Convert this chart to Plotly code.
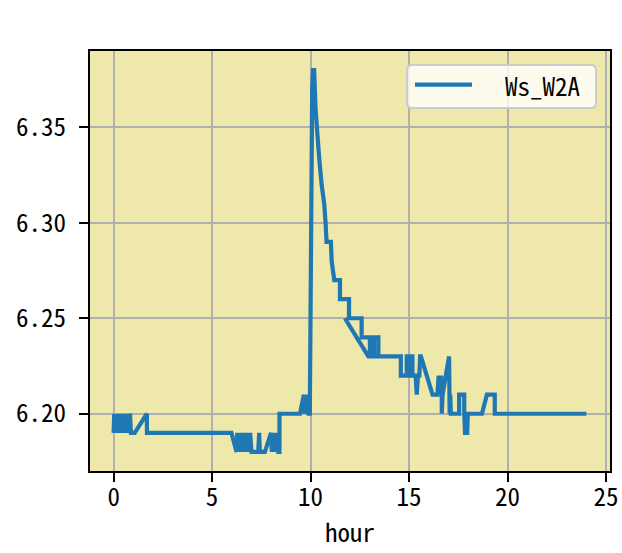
import plotly.graph_objects as go

# ---- data ----
hour = [
    0.00, 0.03, 0.07, 0.11, 0.15, 0.19, 0.23, 0.27, 0.31, 0.35, 0.39, 0.43,
    0.47, 0.51, 0.55, 0.59, 0.63, 0.67, 0.71, 0.75, 0.79, 0.83, 0.88, 1.07,
    1.69, 1.69,
    5.98, 6.24, 6.28, 6.32, 6.36, 6.40, 6.44, 6.48, 6.52, 6.56, 6.60, 6.64,
    6.68, 6.72, 6.76, 6.80, 6.84, 6.88, 6.93, 7.00, 7.34, 7.39, 7.42, 7.68,
    7.99, 8.03, 8.07, 8.11, 8.15, 8.19, 8.23, 8.27, 8.32, 8.36, 8.42, 8.42,
    9.46, 9.66, 9.66, 9.70, 9.74, 9.78, 9.82, 9.86, 9.90, 9.96,
    10.08, 10.12, 10.18, 10.25, 10.32, 10.39, 10.47, 10.56, 10.69, 10.76,
    10.81, 11.03, 11.07, 11.20, 11.49, 11.49, 11.95, 11.95, 12.59, 12.59,
    13.01, 13.01, 13.22, 13.22, 13.44, 13.44, 12.93, 11.74, 12.93,
    14.58, 14.58, 14.88, 14.88, 14.98, 14.98, 15.05, 15.05, 15.17, 15.17,
    15.33, 15.39, 15.45, 15.52, 15.56, 15.60, 16.19, 16.44, 16.50, 16.56,
    16.62, 16.66, 16.66, 16.70, 17.03, 17.06, 17.09, 17.12,
    17.54, 17.54, 17.80, 17.80, 17.84, 17.95, 17.98, 18.70, 18.95, 19.35,
    19.35, 24.00,
]
ws_w2a = [
    6.19, 6.20, 6.19, 6.20, 6.19, 6.20, 6.19, 6.20, 6.19, 6.20, 6.19, 6.20,
    6.19, 6.20, 6.19, 6.20, 6.19, 6.20, 6.19, 6.20, 6.19, 6.20, 6.19, 6.19,
    6.20, 6.19,
    6.19, 6.18, 6.19, 6.18, 6.19, 6.18, 6.19, 6.18, 6.19, 6.18, 6.19, 6.18,
    6.19, 6.18, 6.19, 6.18, 6.19, 6.18, 6.19, 6.18, 6.18, 6.19, 6.18, 6.18,
    6.19, 6.18, 6.19, 6.18, 6.19, 6.18, 6.19, 6.18, 6.19, 6.18, 6.18, 6.20,
    6.20, 6.21, 6.20, 6.21, 6.20, 6.21, 6.20, 6.21, 6.20, 6.20,
    6.37, 6.38, 6.38, 6.36, 6.35, 6.34, 6.33, 6.32, 6.31, 6.30,
    6.29, 6.29, 6.28, 6.27, 6.27, 6.26, 6.26, 6.25, 6.25, 6.24,
    6.24, 6.23, 6.23, 6.24, 6.24, 6.23, 6.23, 6.25, 6.23,
    6.23, 6.22, 6.22, 6.23, 6.23, 6.22, 6.22, 6.23, 6.23, 6.22,
    6.22, 6.21, 6.22, 6.22, 6.23, 6.23, 6.21, 6.21, 6.22, 6.21,
    6.22, 6.21, 6.20, 6.21, 6.23, 6.20, 6.21, 6.20,
    6.20, 6.21, 6.21, 6.20, 6.19, 6.19, 6.20, 6.20, 6.21, 6.21,
    6.20, 6.20,
]
series_name = "Ws_W2A"
x_ticks = [0, 5, 10, 15, 20, 25]
y_ticks = [6.20, 6.25, 6.30, 6.35]
x_label = "hour"

FONT = "Noto Sans Mono CJK SC, DejaVu Sans Mono, monospace"
FS = 25
LINE_COLOR = "#1f77b4"
LW = 4.2

fig = go.Figure()
fig.add_trace(go.Scatter(
    x=hour, y=ws_w2a, mode="lines", name=series_name,
    line=dict(color=LINE_COLOR, width=LW, simplify=False), showlegend=False,
))

axis_common = dict(
    showgrid=True, gridcolor="#b0b0b0", gridwidth=2,
    showline=True, linecolor="black", linewidth=2, mirror=True,
    ticks="outside", ticklen=9, tickwidth=2, tickcolor="black",
    zeroline=False, automargin=False,
    tickfont=dict(family=FONT, size=FS, color="black"),
)

xmin, xmax = min(hour), max(hour)
xpad = (xmax - xmin) * 0.05
ymin, ymax = min(ws_w2a), max(ws_w2a)
ypad = (ymax - ymin) * 0.05

fig.update_xaxes(range=[xmin - xpad, xmax + xpad], tickvals=x_ticks,
                 title=dict(text=x_label, font=dict(family=FONT, size=FS, color="black"),
                            standoff=12),
                 ticklabelstandoff=-6, **axis_common)
fig.update_yaxes(range=[ymin - ypad, ymax + ypad], tickvals=y_ticks,
                 tickformat=".2f", ticklabelstandoff=8, **axis_common)

# legend box drawn in paper coordinates (matplotlib-style)
x0, x1, y0, y1 = 0.6096, 0.9731, 0.8643, 0.9667
rx, ry = 0.0096, 0.0119
path = (f"M {x0+rx},{y0} L {x1-rx},{y0} Q {x1},{y0} {x1},{y0+ry} "
        f"L {x1},{y1-ry} Q {x1},{y1} {x1-rx},{y1} L {x0+rx},{y1} "
        f"Q {x0},{y1} {x0},{y1-ry} L {x0},{y0+ry} Q {x0},{y0} {x0+rx},{y0} Z")
fig.add_shape(type="path", path=path, xref="paper", yref="paper",
              fillcolor="rgba(255,255,255,0.8)", line=dict(color="#cccccc", width=2),
              layer="above")
ly = 0.920
fig.add_shape(type="line", xref="paper", yref="paper", x0=0.625, x1=0.7346,
              y0=ly, y1=ly, line=dict(color=LINE_COLOR, width=LW), layer="above")
fig.add_annotation(text=series_name, xref="paper", yref="paper", x=0.795, y=ly,
                   xanchor="left", yanchor="middle", showarrow=False,
                   font=dict(family=FONT, size=FS, color="black"))

fig.update_layout(
    width=622, height=553,
    margin=dict(l=90, r=12, t=51, b=82),
    paper_bgcolor="white", plot_bgcolor="#EEE8AA",
    font=dict(family=FONT, size=FS, color="black"),
)

fig.write_html("out.html", config={"displayModeBar": False},
               post_script="document.body.style.margin='0';document.body.style.overflow='hidden';")
